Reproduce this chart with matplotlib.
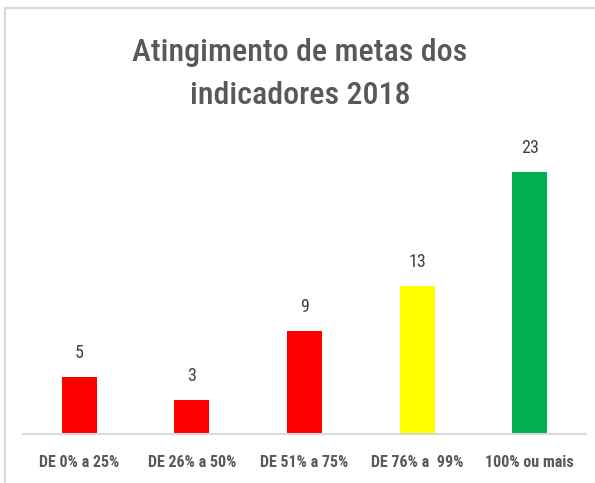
import matplotlib.pyplot as plt
from matplotlib.patches import Rectangle

categories = ["DE 0% a 25%", "DE 26% a 50%", "DE 51% a 75%", "DE 76% a  99%", "100% ou mais"]
values = [5, 3, 9, 13, 23]
bar_colors = ["#FF0000", "#FF0000", "#FF0000", "#FFFF00", "#00B050"]
title = "Atingimento de metas dos\nindicadores 2018"

plt.rcParams['font.family'] = ['Roboto Condensed', 'Lato', 'DejaVu Sans']

W, H = 595, 483
fig = plt.figure(figsize=(W / 100, H / 100), dpi=100)

# light grey chart frame, cut off at right/bottom like the screenshot
fig.patches.append(Rectangle((5 / W, -0.1), 1.2, 1.1 - 8 / H, transform=fig.transFigure,
                             fill=False, edgecolor="#d9d9d9", linewidth=1.6, clip_on=False))

ax = fig.add_axes([23 / W, 1 - 434 / H, (586 - 23) / W, 285 / H])
x = range(len(categories))
bars = ax.bar(x, values, width=0.31, color=bar_colors)

for xi, v in zip(x, values):
    ax.annotate(str(v), (xi, v), xytext=(0, 11), textcoords="offset points",
                ha="center", va="bottom", fontsize=13, color="#404040")

ax.set_xlim(-0.5, len(categories) - 0.5)
ax.set_ylim(0, 25)
ax.set_xticks(list(x))
ax.set_xticklabels(categories, fontsize=11.5, fontweight="bold", color="#595959")
ax.tick_params(axis="x", length=0, pad=15)
ax.set_yticks([])
for s in ["top", "right", "left"]:
    ax.spines[s].set_visible(False)
ax.spines["bottom"].set_color("#d9d9d9")
ax.spines["bottom"].set_linewidth(1.5)

fig.text(300 / W, 1 - 74 / H, title, ha="center", va="center", fontsize=23,
         fontweight="medium", color="#595959", linespacing=1.6)

fig.savefig("out.png", dpi=100)
